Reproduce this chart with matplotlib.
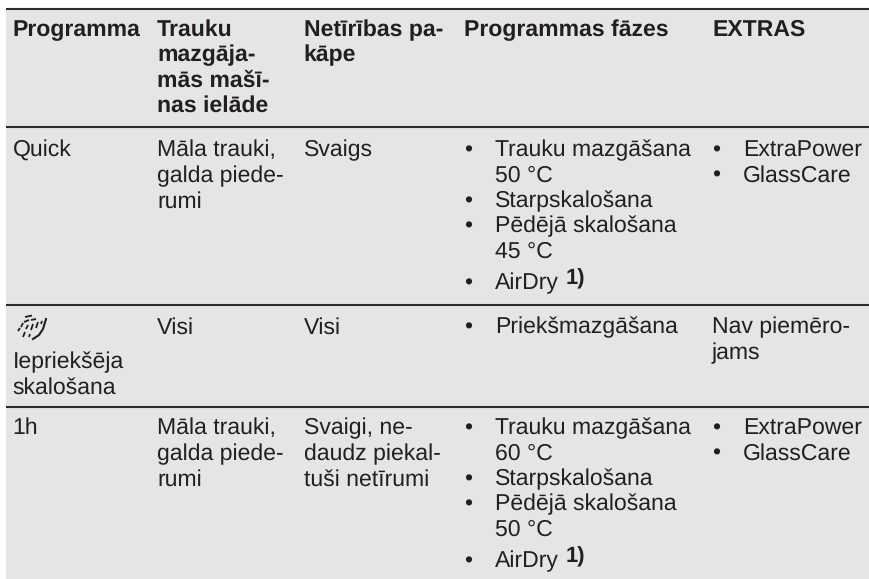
import matplotlib
matplotlib.use('Agg')
import matplotlib.pyplot as plt

plt.rcParams['font.family'] = ['Liberation Sans', 'DejaVu Sans']
plt.rcParams['text.hinting'] = 'no_hinting'
plt.rcParams['text.hinting_factor'] = 1

headers = [
    ["Programma"],
    ["Trauku", "mazgāja-", "mās mašī-", "nas ielāde"],
    ["Netīrības pa-", "kāpe"],
    ["Programmas fāzes"],
    ["EXTRAS"],
]
programs = [["Quick"], ["", "Iepriekšēja", "skalošana"], ["1h"]]
loads = [["Māla trauki,", "galda piede-", "rumi"], ["Visi"], ["Māla trauki,", "galda piede-", "rumi"]]
soil = [["Svaigs"], ["Visi"], ["Svaigi, ne-", "daudz piekal-", "tuši netīrumi"]]
phases = [
    [["Trauku mazgāšana", "50 °C"], ["Starpskalošana"], ["Pēdējā skalošana", "45 °C"], ["AirDry"]],
    [["Priekšmazgāšana"]],
    [["Trauku mazgāšana", "60 °C"], ["Starpskalošana"], ["Pēdējā skalošana", "50 °C"], ["AirDry"]],
]
extras = [["ExtraPower", "GlassCare"], None, ["ExtraPower", "GlassCare"]]
no_extras = ["Nav piemēro-", "jams"]
footnote = "1)"

W, H = 869, 579
INK = '#231f20'
PANEL = '#e4e5e7'
RULE = '#2e2c2d'
FS = 16.3
PITCH = 25.4
COL_X = [12.5, 157, 303.5, 464, 712]
BULLET_GAP = 31
HEAD_Y = 36
ROW_Y = [156.5, 333.5, 434.5]
RULES = [9, 127, 305, 407]

fig = plt.figure(figsize=(W / 100, H / 100), dpi=100)
ax = fig.add_axes([0, 0, 1, 1])
ax.set_xlim(0, W)
ax.set_ylim(H, 0)
ax.axis('off')

ax.fill_between([6, W], 9, H, color=PANEL, lw=0, zorder=0)
for y in RULES:
    ax.plot([6, W], [y, y], color=RULE, lw=1.5, solid_capstyle='butt', zorder=1)


def put(x, y, s, **kw):
    ax.text(x, y, s, color=INK, fontsize=kw.pop('fontsize', FS), va='baseline', ha='left', **kw)


def lines(x, y, rows, **kw):
    for i, s in enumerate(rows):
        put(x, y + i * PITCH, s, **kw)


def bullets(x, y, items):
    n = 0
    for item in items:
        # AirDry sits a little lower, it has the raised footnote next to it
        extra = 6 if item[0] == "AirDry" else 0
        put(x, y + n * PITCH + extra, "•")
        for s in item:
            put(x + BULLET_GAP, y + n * PITCH + extra, s)
            if s == "AirDry":
                put(x + BULLET_GAP + 71, y + n * PITCH + extra - 5, footnote,
                    fontweight='bold', fontsize=FS * 0.95)
            n += 1


for x, rows in zip(COL_X, headers):
    lines(x, HEAD_Y, rows, fontweight='bold')

for r, y in enumerate(ROW_Y):
    if r == 1:
        lines(COL_X[0], y + 35 - PITCH, programs[r])
    else:
        lines(COL_X[0], y, programs[r])
    lines(COL_X[1], y, loads[r])
    lines(COL_X[2], y, soil[r])
    bullets(COL_X[3], y, phases[r])
    if extras[r] is None:
        lines(COL_X[4], y, no_extras)
    else:
        bullets(COL_X[4], y, [[s] for s in extras[r]])

# pre-rinse spray icon in the second row
for x0, y0, x1, y1 in [(25, 317, 32, 315.5), (24, 322, 29, 320), (31, 320, 36, 319),
                       (21, 327, 23, 323), (26, 329, 28, 325), (31, 330, 33, 324),
                       (36, 328, 38, 322), (18, 331, 20, 328), (23, 337, 25, 332),
                       (29, 337, 30, 334), (41, 324, 42, 321)]:
    ax.plot([x0, x1], [y0, y1], color=INK, lw=1.3, solid_capstyle='butt')
ax.plot([33, 39, 43, 46], [339, 335, 329, 319], color=INK, lw=1.5)

fig.savefig('out.png', dpi=100)
